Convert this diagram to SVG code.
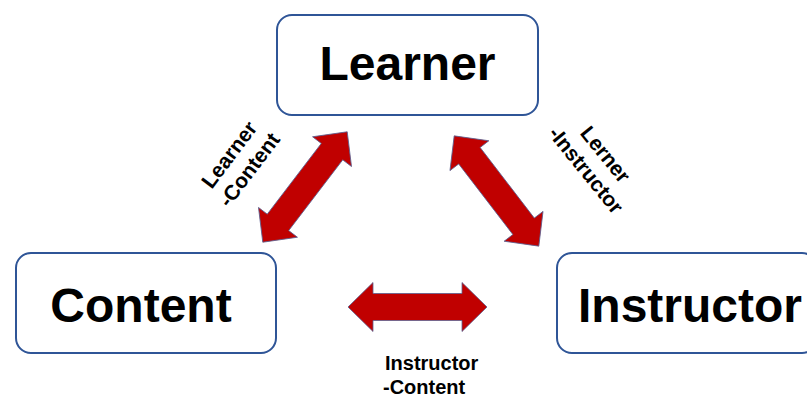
<svg xmlns="http://www.w3.org/2000/svg" width="807" height="398" viewBox="0 0 807 398">
<defs>
<style>
.box{fill:#fff;stroke:#2f5597;stroke-width:2}
.nt{font-family:"Liberation Sans",Arial,sans-serif;font-weight:bold;font-size:48px;fill:#000}
.lb{font-family:"Liberation Sans",Arial,sans-serif;font-weight:bold;font-size:20px;fill:#000}
.ld{font-family:"Liberation Sans",Arial,sans-serif;font-weight:bold;font-size:21px;fill:#000;text-anchor:middle}
.arr{fill:#c00000;stroke:#5b5f8f;stroke-width:0.8}
</style>
<path id="dbl" d="M-69.5,0 L-44.5,-24.5 L-44.5,-13.5 L44.5,-13.5 L44.5,-24.5 L69.5,0 L44.5,24.5 L44.5,13.5 L-44.5,13.5 L-44.5,24.5 Z"/>
</defs>
<rect width="807" height="398" fill="#fff"/>
<g id="learner">
<rect class="box" x="277" y="15" width="261" height="100" rx="15"/>
<text class="nt" x="407.5" y="80" text-anchor="middle">Learner</text>
</g>
<g id="content">
<rect class="box" x="16" y="253" width="260" height="100" rx="15"/>
<text class="nt" x="141" y="322" text-anchor="middle">Content</text>
</g>
<g id="instructor">
<rect class="box" x="557" y="253" width="260" height="100" rx="15"/>
<text class="nt" x="578" y="322">Instructor</text>
</g>
<g id="connectors">
<use href="#dbl" class="arr" transform="translate(305,187) rotate(-52.6)"/>
<use href="#dbl" class="arr" transform="translate(496.5,191) rotate(52.5)"/>
<use href="#dbl" class="arr" transform="translate(417.5,307)"/>
<g transform="translate(239,162) rotate(-53)">
<text class="ld" x="0" y="-5">Learner</text>
<text class="ld" x="0" y="20">-Content</text>
</g>
<g transform="translate(596,162) rotate(51)">
<text class="ld" x="0" y="-5">Lerner</text>
<text class="ld" x="0" y="20">-Instructor</text>
</g>
<text class="lb" x="385" y="370">Instructor</text>
<text class="lb" x="383" y="394">-Content</text>
</g>
</svg>
